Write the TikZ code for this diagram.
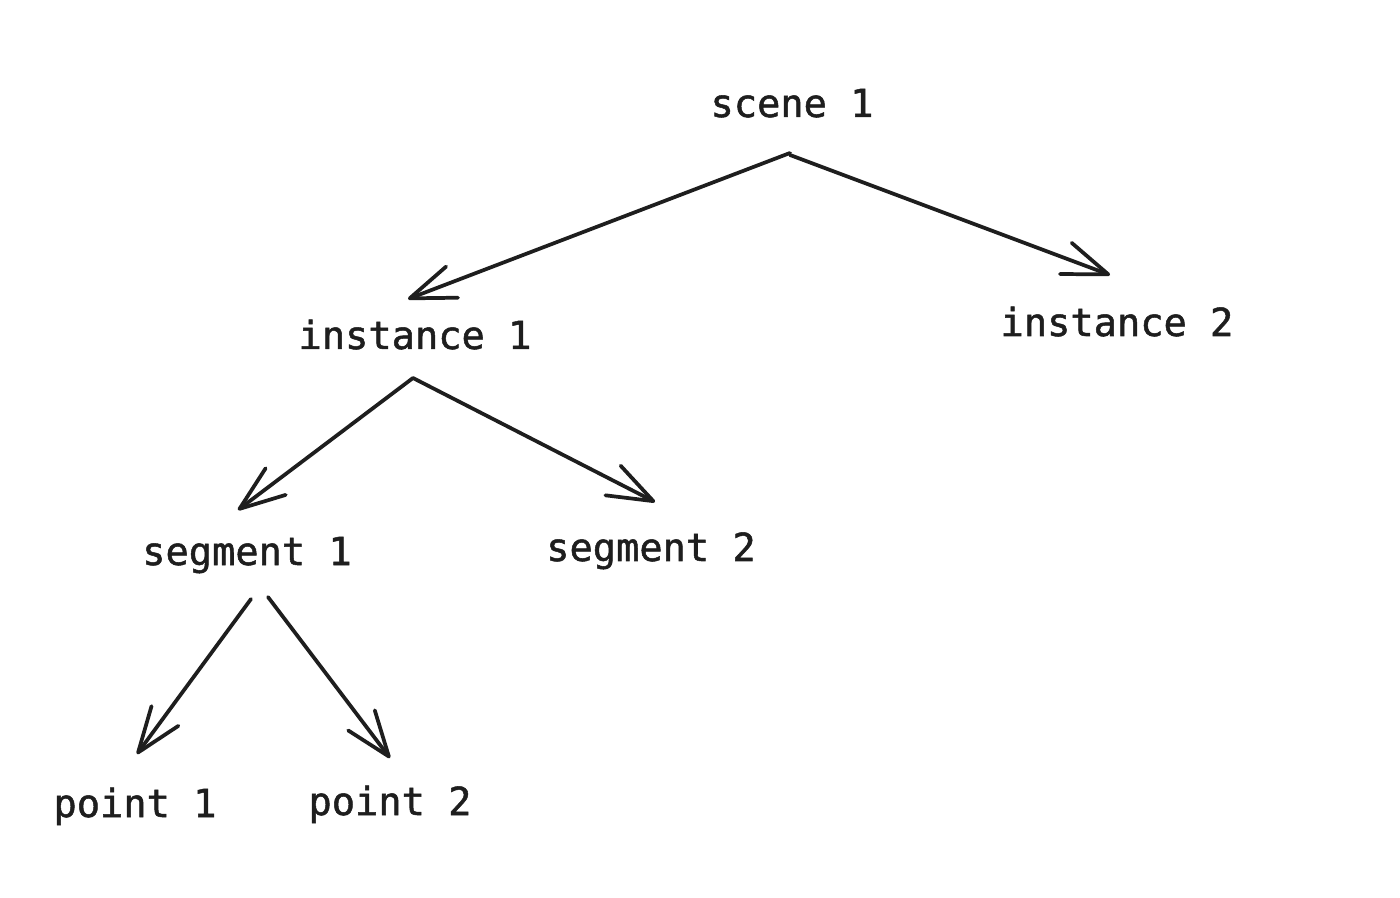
\documentclass[tikz,border=0pt]{standalone}
\usepackage{fontspec}
\newfontfamily\diagmono[FakeBold=1.3]{DejaVu Sans Mono}
\usetikzlibrary{arrows.meta,calc}
\definecolor{ink}{HTML}{1E1E1E}
\tikzset{
  label/.style={anchor=base,inner sep=0pt,text=ink,font=\diagmono\fontsize{29}{34}\selectfont},
  conn/.style={draw=ink,line width=2.8pt,line cap=round,
    -{Straight Barb[length=34pt,width=25pt,line width=2.8pt,round]}}
}
\begin{document}
\begin{tikzpicture}[x=0.75pt,y=-0.75pt]
\useasboundingbox[fill=white] (0,0) rectangle (1400,898);
\node[label] (scene) at (792,117) {scene 1};
\node[label] (inst1) at (415,349) {instance 1};
\node[label] (inst2) at (1117,336) {instance 2};
\node[label] (seg1) at (247,565) {segment 1};
\node[label] (seg2) at (651,561) {segment 2};
\node[label] (pt1) at (135,817) {point 1};
\node[label] (pt2) at (390,815) {point 2};
\draw[conn] ($(scene.base)+(-2,36)$) -- ($(inst1.base)+(-7,-50)$);
\draw[conn] ($(scene.base)+(-2,38)$) -- ($(inst2.base)+(-7,-61)$);
\draw[conn] ($(inst1.base)+(-2,29)$) -- ($(seg1.base)+(-9,-55)$);
\draw[conn] ($(inst1.base)+(-2,29)$) -- ($(seg2.base)+(4,-59)$);
\draw[conn] ($(seg1.base)+(4,34)$) -- ($(pt1.base)+(2,-63)$);
\draw[conn] ($(seg1.base)+(21,32)$) -- ($(pt2.base)+(0,-57)$);
\end{tikzpicture}
\end{document}
